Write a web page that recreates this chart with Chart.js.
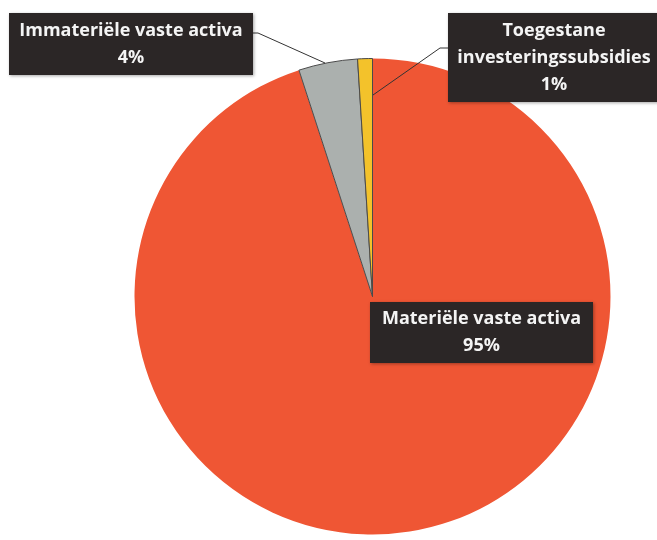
<!DOCTYPE html>
<html>
<head>
<meta charset="utf-8">
<script src="https://cdn.jsdelivr.net/npm/chart.js"></script>
<style>
  html, body { margin: 0; padding: 0; background: #fff; }
  #wrap { width: 657px; height: 540px; position: relative; }
</style>
</head>
<body>
<div id="wrap"><canvas id="activaChart" width="657" height="540"></canvas></div>
<script>
  // verdeling vaste activa (percentages)
  const categorieen = ['Materiële vaste activa', 'Immateriële vaste activa', 'Toegestane investeringssubsidies'];
  const aandelen = [95, 4, 1];
  const kleuren = ['#EF5634', '#ABB0AE', '#F3C22B'];

  // tekstregels per label (zelfde volgorde als categorieen)
  const labelRegels = [
    ['Materiële vaste activa'],
    ['Immateriële vaste activa'],
    ['Toegestane', 'investeringssubsidies']
  ];

  // labelboxen: positie en aanwijslijn
  const boxen = [
    { x: 370, y: 302, w: 223, h: 61, lijn: null },
    { x: 9, y: 13, w: 244, h: 62, lijn: [[253, 33], [258, 33], [325, 63]] },
    { x: 448, y: 13, w: 212, h: 89, lijn: [[448, 48], [440, 48], [373, 95]] }
  ];

  const labelPlugin = {
    id: 'labelBoxen',
    afterDraw(chart) {
      const ctx = chart.ctx;
      const totaal = aandelen.reduce((a, b) => a + b, 0);
      ctx.save();
      boxen.forEach((b, i) => {
        if (b.lijn) {
          ctx.beginPath();
          ctx.strokeStyle = '#333';
          ctx.lineWidth = 1;
          ctx.moveTo(b.lijn[0][0], b.lijn[0][1]);
          for (let k = 1; k < b.lijn.length; k++) ctx.lineTo(b.lijn[k][0], b.lijn[k][1]);
          ctx.stroke();
        }
        ctx.shadowColor = 'rgba(0,0,0,0.35)';
        ctx.shadowBlur = 3;
        ctx.shadowOffsetX = 1;
        ctx.shadowOffsetY = 1;
        ctx.fillStyle = '#2B2626';
        ctx.fillRect(b.x, b.y, b.w, b.h);
        ctx.shadowColor = 'transparent';

        const regels = labelRegels[i].concat([Math.round(aandelen[i] / totaal * 100) + '%']);
        ctx.fillStyle = '#F4F4F4';
        ctx.font = 'bold 18px "Open Sans"';
        ctx.textAlign = 'center';
        ctx.textBaseline = 'middle';
        const regelHoogte = 27;
        const startY = b.y + b.h / 2 - (regels.length - 1) * regelHoogte / 2;
        regels.forEach((r, k) => ctx.fillText(r, b.x + b.w / 2, startY + k * regelHoogte));
      });
      ctx.restore();
    }
  };

  new Chart(document.getElementById('activaChart'), {
    type: 'pie',
    data: {
      labels: categorieen,
      datasets: [{
        data: aandelen,
        backgroundColor: kleuren,
        borderColor: '#4a4a4a',
        borderWidth: [0, 1, 1],
        hoverOffset: 0
      }]
    },
    options: {
      responsive: false,
      animation: false,
      layout: { padding: { left: 134, right: 46, top: 58, bottom: 5 } },
      plugins: {
        legend: { display: false },
        tooltip: { enabled: false }
      }
    },
    plugins: [labelPlugin]
  });
</script>
</body>
</html>
